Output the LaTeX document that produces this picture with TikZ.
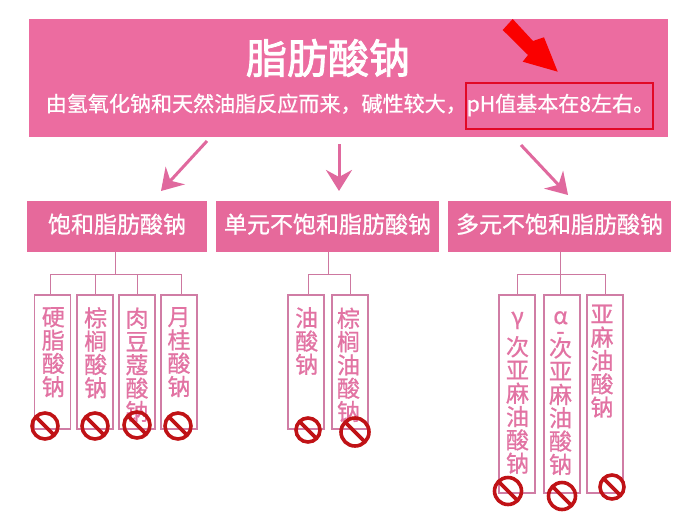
\documentclass[tikz,border=0pt]{standalone}
\usepackage{fontspec}
\setmainfont{Noto Sans CJK SC}
\newfontfamily\medcjk{Noto Sans CJK SC}[FakeBold=0.8]
\newfontfamily\titlecjk{Noto Sans CJK SC}[FakeBold=2]
\usetikzlibrary{arrows.meta,calc}
\definecolor{mainpink}{RGB}{236,108,160}
\definecolor{catpink}{RGB}{230,105,155}
\definecolor{leafline}{RGB}{208,125,165}
\definecolor{leaftext}{RGB}{226,115,163}
\definecolor{treeline}{RGB}{205,120,160}
\definecolor{arrowpink}{RGB}{224,105,158}
\definecolor{signred}{RGB}{192,18,22}
\definecolor{alertred}{RGB}{226,8,38}
\tikzset{
  mainbox/.style={fill=mainpink,minimum width=639pt,minimum height=118pt,inner sep=0pt},
  catbox/.style={fill=catpink,text=white,minimum height=51pt,inner sep=0pt,font=\medcjk\fontsize{23}{24}\selectfont},
  leafbox/.style={draw=leafline,line width=1.5pt,minimum width=36pt,inner sep=0pt},
  leaflabel/.style={text=leaftext,align=center,inner sep=0pt,anchor=north,font=\medcjk\fontsize{23}{23.3}\selectfont},
  tree/.style={draw=treeline,line width=0.7pt},
  bigarrow/.style={draw=arrowpink,line width=3pt,-{Stealth[length=21pt,width=26pt,inset=7pt]}},
  nosign/.style={circle,draw=signred,line width=3.6pt,minimum size=#1,inner sep=0pt,
    path picture={\draw[signred,line width=3.6pt] (path picture bounding box.north west) -- (path picture bounding box.south east);}},
}
\begin{document}
\begin{tikzpicture}[x=1pt,y=-1pt]
\useasboundingbox (0,0) rectangle (700,525);
\fill[white] (0,0) rectangle (700,525);

\node[mainbox] (main) at (348.5,78) {};
\node[text=white,inner sep=0pt,font=\titlecjk\fontsize{41}{44}\selectfont] (title) at (328,58) {脂肪酸钠};
\node[text=white,inner sep=0pt,font=\medcjk\fontsize{21.05}{24}\selectfont] (sub) at (350,105) {由氢氧化钠和天然油脂反应而来，碱性较大，pH值基本在8左右。};
\node[draw=alertred,line width=1.8pt,minimum width=187pt,minimum height=46pt,inner sep=0pt] (alert) at (559.3,105.8) {};
\fill[red!98!black] (512.7,19) -- (533,41) -- (544,37.3) -- (557.7,71.7) -- (522.7,61.7) -- (528,55) -- (502.7,30) -- cycle;

\node[catbox,minimum width=180pt] (c1) at (117,226.5) {\raisebox{6.5pt}{饱和脂肪酸钠}};
\node[catbox,minimum width=223pt] (c2) at (327.5,226.5) {\raisebox{6.5pt}{单元不饱和脂肪酸钠}};
\node[catbox,minimum width=223pt] (c3) at (559.5,226.5) {\raisebox{6.5pt}{多元不饱和脂肪酸钠}};

\coordinate (a1s) at (207,141); \coordinate (a1e) at (161,191);
\coordinate (a2s) at (339,144); \coordinate (a2e) at (339,191);
\coordinate (a3s) at (521,145); \coordinate (a3e) at (568,195);
\draw[bigarrow] (a1s) -- (a1e);
\draw[bigarrow] (a2s) -- (a2e);
\draw[bigarrow] (a3s) -- (a3e);

% leaves, group 1
\node[leafbox,minimum height=134pt] (l11) at (52.7,362) {};
\node[leafbox,minimum height=134pt] (l12) at (95,362) {};
\node[leafbox,minimum height=134pt] (l13) at (137,362) {};
\node[leafbox,minimum height=134pt] (l14) at (179,362) {};
\node[leaflabel] (t11) at (53.3,307) {硬\\脂\\酸\\钠};
\node[leaflabel] (t12) at (95.7,307) {棕\\榈\\酸\\钠};
\node[leaflabel] (t13) at (137,307.5) {肉\\豆\\蔻\\酸\\钠};
\node[leaflabel] (t14) at (179,307) {月\\桂\\酸\\钠};

% leaves, group 2
\node[leafbox,minimum height=134pt] (l21) at (306,362) {};
\node[leafbox,minimum height=134pt] (l22) at (350,362) {};
\node[leaflabel] (t21) at (306.7,307) {油\\酸\\钠};
\node[leaflabel] (t22) at (348.5,307.5) {棕\\榈\\油\\酸\\钠};

% leaves, group 3
\node[leafbox,minimum height=198pt] (l31) at (517,394) {};
\node[leafbox,minimum height=198pt] (l32) at (562,394) {};
\node[leafbox,minimum height=198pt] (l33) at (605,394) {};
\node[leaflabel] (t31) at (517.5,311.5) {γ\\[6pt]次\\亚\\麻\\油\\酸\\钠};
\node[leaflabel] (t32) at (560.5,311) {α\\[-8pt]{\titlecjk\fontsize{23}{23.3}\selectfont -}\\[-6pt]次\\亚\\麻\\油\\酸\\钠};
\node[leaflabel] (t33) at (602,304.5) {亚\\麻\\油\\酸\\钠};

% tree connectors
\coordinate (j1) at (115,274);
\coordinate (j2) at (328,274);
\coordinate (j3) at (560,274);
\draw[tree] (j1 |- c1.south) -- (j1);
\draw[tree] (j2 |- c2.south) -- (j2);
\draw[tree] (j3 |- c3.south) -- (j3);
\draw[tree] (j1) -| ($(l11.north)+(-2.7,0)$);
\draw[tree] (j1) -| ($(l14.north)+(2,0)$);
\draw[tree] ($(j1 -| l12.north)$) -- (l12.north);
\draw[tree] ($(j1 -| l13.north)$) -- (l13.north);
\draw[tree] (j2) -| ($(l21.north)+(2,0)$);
\draw[tree] (j2) -| (l22.north);
\draw[tree] (j3) -| (l31.north);
\draw[tree] (j3) -- (j3 |- l32.north);
\draw[tree] (j3) -| (l33.north);

% prohibition signs
\node[nosign=26pt] (s11) at (45,426) {};
\node[nosign=26pt] (s12) at (95,426) {};
\node[nosign=26pt] (s13) at (137,425) {};
\node[nosign=26pt] (s14) at (178,426) {};
\node[nosign=24pt] (s21) at (308,430) {};
\node[nosign=28pt] (s22) at (355,432) {};
\node[nosign=27pt] (s31) at (508,491) {};
\node[nosign=27pt] (s32) at (562,496) {};
\node[nosign=24pt] (s33) at (612,487) {};
\end{tikzpicture}
\end{document}
